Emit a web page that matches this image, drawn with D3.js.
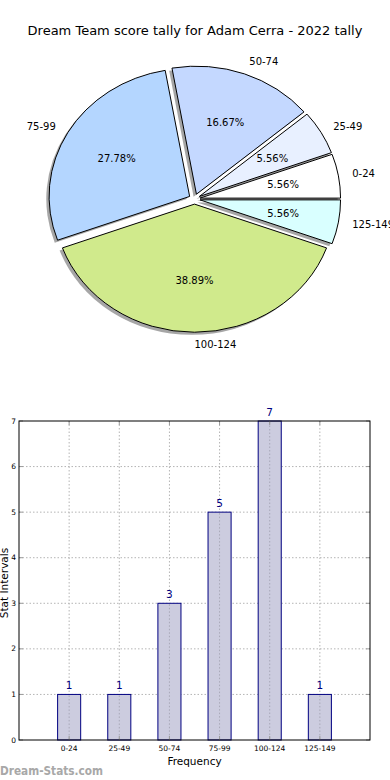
<!DOCTYPE html>
<html>
<head>
<meta charset="utf-8">
<script src="https://cdn.jsdelivr.net/npm/d3@7"></script>
<style>
    body { margin: 0; background: #fff; }
    svg { display: block; font-family: 'DejaVu Sans', sans-serif; }
</style>
</head>
<body>
<svg id="chart" width="390" height="780"></svg>
<script>
const title = 'Dream Team score tally for Adam Cerra - 2022 tally';
const categories = ['0-24', '25-49', '50-74', '75-99', '100-124', '125-149'];
const counts = [1, 1, 3, 5, 7, 1];
const sliceColors = ['#ffffff', '#e8f0ff', '#c4d8ff', '#b4d6ff', '#d0ea8c', '#d9ffff'];
const yTicks = [0, 1, 2, 3, 4, 5, 6, 7];

const svg = d3.select('#chart');
const formatPct = d3.format('.2f');

svg.append('text')
    .attr('x', 195)
    .attr('y', 30)
    .attr('text-anchor', 'middle')
    .attr('dominant-baseline', 'central')
    .attr('font-size', '13px')
    .text(title);

drawPie();
drawBars();

function drawPie() {
    // matplotlib pie on a non-equal axes: ellipse, counterclockwise from east
    const cx = 194.5, cy = 199, rx = 140.5, ry = 128;
    const explode = 0.04;
    const total = d3.sum(counts);

    const pie = d3.pie().sort(null)
        .startAngle(Math.PI / 2)
        .endAngle(Math.PI / 2 - 2 * Math.PI);
    const arcs = pie(counts);
    const arc = d3.arc().innerRadius(0).outerRadius(1);

    const mid = d => Math.PI / 2 - (d.startAngle + d.endAngle) / 2;
    const offX = d => explode * rx * Math.cos(mid(d));
    const offY = d => -explode * ry * Math.sin(mid(d));

    const g = svg.append('g');

    // shadows under everything
    g.selectAll('.shadow')
        .data(arcs)
        .enter()
        .append('path')
        .attr('class', 'shadow')
        .attr('transform', d => 'translate(' + (cx + offX(d) - 2.8) + ',' + (cy + offY(d) + 2.6) + ') scale(' + rx + ',' + ry + ')')
        .attr('d', arc)
        .attr('fill', '#4d4d4d')
        .attr('fill-opacity', 0.5);

    g.selectAll('.wedge')
        .data(arcs)
        .enter()
        .append('path')
        .attr('class', 'wedge')
        .attr('transform', d => 'translate(' + (cx + offX(d)) + ',' + (cy + offY(d)) + ') scale(' + rx + ',' + ry + ')')
        .attr('d', arc)
        .attr('fill', (d, i) => sliceColors[i])
        .attr('stroke', '#000')
        .attr('stroke-width', 1)
        .attr('vector-effect', 'non-scaling-stroke');

    g.selectAll('.slice-label')
        .data(arcs)
        .enter()
        .append('text')
        .attr('class', 'slice-label')
        .attr('x', d => cx + offX(d) + 1.1 * rx * Math.cos(mid(d)))
        .attr('y', d => cy + offY(d) - 1.1 * ry * Math.sin(mid(d)))
        .attr('text-anchor', d => Math.cos(mid(d)) > -0.01 ? 'start' : 'end')
        .attr('dominant-baseline', 'central')
        .attr('font-size', '10px')
        .text((d, i) => categories[i]);

    g.selectAll('.pct-label')
        .data(arcs)
        .enter()
        .append('text')
        .attr('class', 'pct-label')
        .attr('x', d => cx + offX(d) + 0.6 * rx * Math.cos(mid(d)))
        .attr('y', d => cy + offY(d) - 0.6 * ry * Math.sin(mid(d)))
        .attr('text-anchor', 'middle')
        .attr('dominant-baseline', 'central')
        .attr('font-size', '10px')
        .text(d => formatPct(d.value / total * 100) + '%');
}

function drawBars() {
    const left = 19, right = 370, top = 421, bottom = 740;

    const x = d3.scaleLinear().domain([-1, 6]).range([left, right]);
    const y = d3.scaleLinear().domain([0, 7]).range([bottom, top]);
    const barWidth = 0.46;

    const g = svg.append('g');

    // grid
    g.selectAll('.hgrid')
        .data(yTicks.slice(1, -1))
        .enter()
        .append('line')
        .attr('x1', left).attr('x2', right)
        .attr('y1', d => y(d)).attr('y2', d => y(d))
        .attr('stroke', '#b4b4b4')
        .attr('stroke-dasharray', '1.5,2');

    g.selectAll('.vgrid')
        .data(categories)
        .enter()
        .append('line')
        .attr('x1', (d, i) => x(i)).attr('x2', (d, i) => x(i))
        .attr('y1', top).attr('y2', bottom)
        .attr('stroke', '#b4b4b4')
        .attr('stroke-dasharray', '1.5,2');

    // bars
    g.selectAll('.bar')
        .data(counts)
        .enter()
        .append('rect')
        .attr('class', 'bar')
        .attr('x', (d, i) => x(i - barWidth / 2))
        .attr('width', x(barWidth) - x(0))
        .attr('y', d => y(d))
        .attr('height', d => bottom - y(d))
        .attr('fill', '#ccccdf')
        .attr('stroke', '#000080')
        .attr('stroke-width', 1);

    // dotted grid shows through bars
    g.selectAll('.vgrid2')
        .data(counts)
        .enter()
        .append('line')
        .attr('x1', (d, i) => x(i)).attr('x2', (d, i) => x(i))
        .attr('y1', d => y(d) + 1).attr('y2', bottom)
        .attr('stroke', '#a8a8b8')
        .attr('stroke-dasharray', '1.5,2');

    g.selectAll('.bar-label')
        .data(counts)
        .enter()
        .append('text')
        .attr('x', (d, i) => x(i))
        .attr('y', d => y(d) - 9)
        .attr('text-anchor', 'middle')
        .attr('dominant-baseline', 'central')
        .attr('font-size', '10.5px')
        .attr('fill', '#000080')
        .text(d => d);

    // tick marks inside, all four sides
    const ticks = g.append('g').attr('stroke', '#999').attr('stroke-width', 1);
    categories.forEach((c, i) => {
        ticks.append('line').attr('x1', x(i)).attr('x2', x(i)).attr('y1', bottom).attr('y2', bottom - 4);
        ticks.append('line').attr('x1', x(i)).attr('x2', x(i)).attr('y1', top).attr('y2', top + 4);
    });
    yTicks.forEach(t => {
        ticks.append('line').attr('x1', left).attr('x2', left + 4).attr('y1', y(t)).attr('y2', y(t));
        ticks.append('line').attr('x1', right).attr('x2', right - 4).attr('y1', y(t)).attr('y2', y(t));
    });

    g.append('rect')
        .attr('x', left).attr('y', top)
        .attr('width', right - left).attr('height', bottom - top)
        .attr('fill', 'none')
        .attr('stroke', '#000')
        .attr('stroke-width', 1);

    g.selectAll('.ytick')
        .data(yTicks)
        .enter()
        .append('text')
        .attr('x', left - 3)
        .attr('y', d => y(d))
        .attr('text-anchor', 'end')
        .attr('dominant-baseline', 'central')
        .attr('font-size', '7.5px')
        .text(d => d);

    g.selectAll('.xtick')
        .data(categories)
        .enter()
        .append('text')
        .attr('x', (d, i) => x(i))
        .attr('y', bottom + 8)
        .attr('text-anchor', 'middle')
        .attr('dominant-baseline', 'central')
        .attr('font-size', '7.5px')
        .text(d => d);

    g.append('text')
        .attr('x', (left + right) / 2)
        .attr('y', 761)
        .attr('text-anchor', 'middle')
        .attr('dominant-baseline', 'central')
        .attr('font-size', '10.5px')
        .text('Frequency');

    g.append('text')
        .attr('transform', 'translate(4,583) rotate(-90)')
        .attr('text-anchor', 'middle')
        .attr('dominant-baseline', 'central')
        .attr('font-size', '10.5px')
        .text('Stat Intervals');

    svg.append('text')
        .attr('x', 0)
        .attr('y', 771)
        .attr('dominant-baseline', 'central')
        .attr('font-size', '12px')
        .attr('font-weight', 'bold')
        .attr('fill', '#a8a8a8')
        .attr('textLength', 103)
        .attr('lengthAdjust', 'spacingAndGlyphs')
        .text('Dream-Stats.com');
}
</script>
</body>
</html>
